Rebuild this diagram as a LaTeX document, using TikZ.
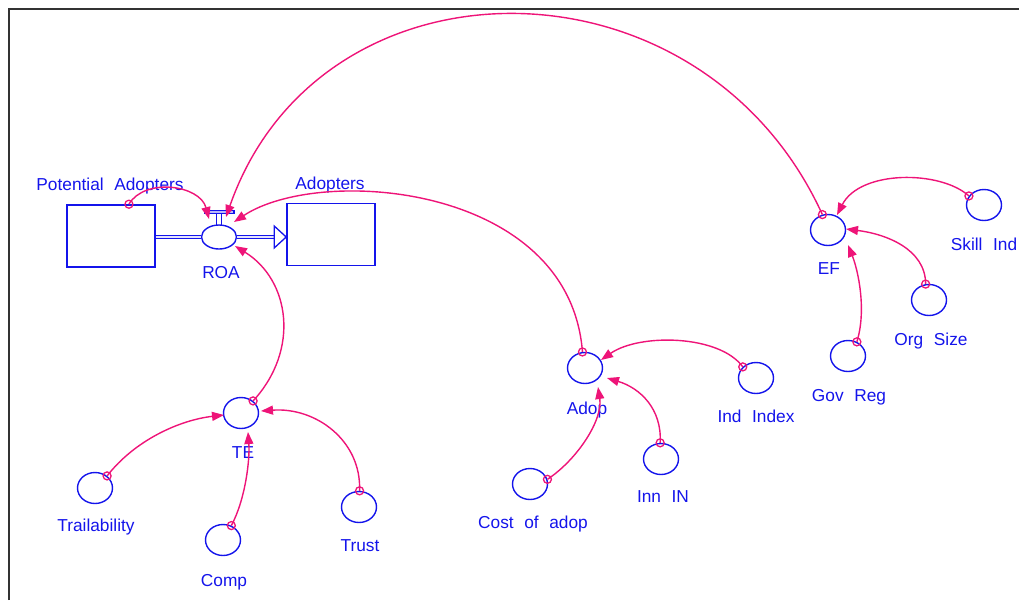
\documentclass[tikz,border=0pt]{standalone}
\usepackage{fontspec}
\setmainfont{Liberation Sans}[WordSpace=2.2]
\usetikzlibrary{arrows.meta,calc,shapes.geometric}
\definecolor{vblue}{RGB}{20,20,235}
\definecolor{vpink}{RGB}{238,20,120}
\begin{document}
\begin{tikzpicture}[x=1pt,y=-1pt,
  aux/.style={ellipse,draw=vblue,line width=1.4pt,minimum width=35pt,minimum height=31pt,inner sep=0pt},
  flowvalve/.style={ellipse,draw=vblue,line width=1.4pt,minimum width=35pt,minimum height=24pt,inner sep=0pt},
  stock/.style={rectangle,draw=vblue,line width=1.6pt,minimum width=88pt,minimum height=62pt,inner sep=0pt},
  lbl/.style={text=vblue,font=\fontsize{17.3}{18}\selectfont,inner sep=0pt,text height=12.3pt,text depth=0pt},
  link/.style={draw=vpink,line width=1.4pt,-{Triangle[length=12pt,width=9pt]}},
  tail/.style={draw=vpink,line width=1.3pt},
  pipe/.style={draw=vblue,line width=1pt,double=vblue!12,double distance=2.4pt},
]
\useasboundingbox (0,0) rectangle (1019,600);
% frame
\draw[black!80,line width=2pt] (8.5,600) -- (8.5,8.5) -- (1019,8.5);

% stocks and flow
\node[stock] (PA) at (111,236) {};
\node[stock] (AD) at (331,234.5) {};
\node[flowvalve] (ROA) at (219,237) {};

% auxiliaries
\node[aux] (TE) at (241,413) {};
\node[aux] (TR) at (95,488) {};
\node[aux] (CO) at (223,540) {};
\node[aux] (TU) at (359,507) {};
\node[aux] (ADOP) at (585,368) {};
\node[aux] (II) at (756,378) {};
\node[aux] (INN) at (661,459) {};
\node[aux] (COST) at (530,484) {};
\node[aux] (EF) at (828,230) {};
\node[aux] (SK) at (984,205) {};
\node[aux] (OS) at (929,300) {};
\node[aux] (GR) at (848,356) {};

% labels
\node[lbl] (lPA) at (110,184) {Potential Adopters};
\node[lbl] (lAD) at (330,183) {Adopters};
\node[lbl] (lROA) at (221,272) {ROA};
\node[lbl] (lTE) at (243,452) {TE};
\node[lbl] (lTR) at (96,525) {Trailability};
\node[lbl] (lCO) at (224,580) {Comp};
\node[lbl] (lTU) at (360,545) {Trust};
\node[lbl] (lADOP) at (587,408) {Adop};
\node[lbl] (lII) at (756,416) {Ind Index};
\node[lbl] (lINN) at (663,496) {Inn IN};
\node[lbl] (lCOST) at (533,522) {Cost of adop};
\node[lbl] (lEF) at (829,268) {EF};
\node[lbl] (lSK) at (984,244) {Skill Ind};
\node[lbl] (lOS) at (931,339) {Org Size};
\node[lbl] (lGR) at (849,395) {Gov Reg};

% pipes
\draw[pipe] (PA.east |- ROA.west) -- (ROA.west);
\coordinate (tip) at (AD.west |- ROA.east);
\coordinate (tb) at ($(tip)+(-12,0)$);
\draw[pipe] (ROA.east) -- (tb);
\draw[vblue,line width=1.3pt,fill=white,line join=miter] ($(tb)+(0,-11)$) -- (tip) -- ($(tb)+(0,11)$) -- cycle;
% valve
\draw[vblue,line width=1.2pt,fill=vblue!30] ($(ROA.north)+(-14,-14)$) rectangle ($(ROA.north)+(15,-10.5)$);
\draw[vblue,line width=1pt] ($(ROA.north)+(-2.5,-10.5)$) -- ($(ROA.north)+(-2.5,0.5)$);
\draw[vblue,line width=1pt] ($(ROA.north)+(2.5,-10.5)$) -- ($(ROA.north)+(2.5,0.5)$);

% links into ROA
\coordinate (pa1) at ($(PA.north west)!0.7!(PA.north east)$);
\draw[link] (pa1) .. controls +(16,-27) and +(-9,-34) .. ($(ROA)+(-10,-18)$);
\draw[tail] (pa1) circle (4pt);
\draw[link] (EF.110) .. controls +(-122,-267) and +(94,-269) .. ($(ROA)+(7,-20)$);
\draw[tail] (EF.110) circle (4pt);
\draw[link] (ADOP.99) .. controls +(-13,-168) and +(86,-57) .. ($(ROA)+(15,-15)$);
\draw[tail] (ADOP.99) circle (4pt);
\draw[link] (TE.45) .. controls +(47,-51) and +(55,34) .. ($(ROA)+(16,9)$);
\draw[tail] (TE.45) circle (4pt);

% links into TE
\draw[link] (TR.45) .. controls +(28,-36) and +(-44,5) .. ($(TE)+(-17,2)$);
\draw[tail] (TR.45) circle (4pt);
\draw[link] (CO.60) .. controls +(14,-26) and +(2,28) .. ($(TE)+(7,19)$);
\draw[tail] (CO.60) circle (4pt);
\draw[link] (TU.88) .. controls +(2,-50) and +(55,-4) .. ($(TE)+(20,-2)$);
\draw[tail] (TU.88) circle (4pt);

% links into Adop
\draw[link] (COST.15) .. controls +(30,-20) and +(5,33) .. ($(ADOP)+(13,19)$);
\draw[tail] (COST.15) circle (4pt);
\draw[link] (INN.93) .. controls +(2,-34) and +(33,10) .. ($(ADOP)+(22,10)$);
\draw[tail] (INN.93) circle (4pt);
\draw[link] (II.140) .. controls +(-23,-32) and +(39,-27) .. ($(ADOP)+(16,-8)$);
\draw[tail] (II.140) circle (4pt);

% links into EF
\draw[link] (SK.149) .. controls +(-29,-26) and +(23,-45) .. ($(EF)+(9,-15)$);
\draw[tail] (SK.149) circle (4pt);
\draw[link] (OS.102) .. controls +(0,-35) and +(40,5) .. ($(EF)+(18,-1)$);
\draw[tail] (OS.102) circle (4pt);
\draw[link] (GR.58) .. controls +(10,-32) and +(10,25) .. ($(EF)+(20,15)$);
\draw[tail] (GR.58) circle (4pt);
\end{tikzpicture}
\end{document}
